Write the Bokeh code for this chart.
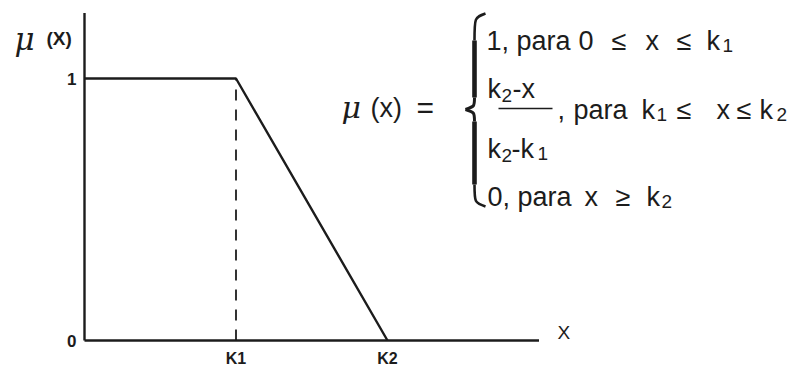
from bokeh.plotting import figure
from bokeh.models import Range1d
from bokeh.core.properties import value
from bokeh.embed import file_html
from bokeh.resources import INLINE

# Trapezoidal membership function (right shoulder)
mu_x = [0.0, 1.0, 2.0]          # 0, k1, k2
mu_y = [1.0, 1.0, 0.0]
k_ticks = [1.0, 2.0]
k_labels = ["K1", "K2"]
y_ticks = [0.0, 1.0]
y_labels = ["0", "1"]
x_axis_end = 3.0
y_axis_top = 1.25

W, H = 808, 367
X0, SX = 84.0, 151.5      # pixel position of x=0 and pixels per unit
Y0, SY = 340.0, 262.0     # pixel position of mu=0 and pixels per unit


def dx(px):
    return (px - X0) / SX


def dy(py):
    return (Y0 - py) / SY


INK = "#1c1c1c"
SANS = "Liberation Sans"

p = figure(width=W, height=H, output_backend="svg", toolbar_location=None,
           x_range=Range1d(dx(0), dx(W)), y_range=Range1d(dy(H), dy(0)),
           min_border=0, outline_line_color=None, background_fill_color="white",
           border_fill_color="white")
p.axis.visible = False
p.grid.visible = False

# axes
p.line([0, x_axis_end], [0, 0], line_color=INK, line_width=2.4)
p.line([0, 0], [0, y_axis_top], line_color=INK, line_width=2.4)

# membership curve and k1 guide
p.line(mu_x, mu_y, line_color=INK, line_width=2.4)
p.line([k_ticks[0], k_ticks[0]], [0, 1], line_color=INK, line_width=1.8,
       line_dash="11 9")

# tick labels
p.text(x=k_ticks, y=[dy(366)] * 2, text=k_labels, text_align="center",
       text_baseline="bottom", text_font=value(SANS), text_font_style="bold",
       text_font_size="16px", text_color=INK)
p.text(x=[dx(76)] * 2, y=y_ticks, text=y_labels, text_align="right",
       text_baseline="middle", text_font=value(SANS), text_font_style="bold",
       text_font_size="17px", text_color=INK)
p.text(x=[dx(557)], y=[dy(332)], text=["X"], text_align="left",
       text_baseline="middle", text_font=value(SANS), text_font_size="19px",
       text_color=INK)

# y axis title
p.text(x=[dx(14)], y=[dy(38)], text=["μ"], text_font=value("DejaVu Serif"),
       text_font_style="italic", text_font_size="31px", text_color=INK,
       text_baseline="alphabetic")
p.text(x=[dx(46)], y=[dy(38)], text=["(X)"], text_font=value(SANS),
       text_font_style="bold", text_font_size="19px", text_color=INK,
       text_baseline="alphabetic")


def put(txt, px, py, size="27px", font=SANS, style="normal"):
    p.text(x=[dx(px)], y=[dy(py)], text=[txt], text_font=value(font),
           text_font_style=style, text_font_size=size, text_color=INK,
           text_align="left", text_baseline="alphabetic")


SUB = "19px"

# left-hand side
put("μ", 341, 107, "30px", "DejaVu Serif", "italic")
put("(x)", 370, 107, "27px")
put("=", 416, 107, "30px")

# case 1
put("1, para", 486, 40)
put("0", 578, 40)
put("≤", 611, 40)
put("x", 645, 40)
put("≤", 676, 40)
put("k", 706, 40)
put("1", 722, 45, SUB)

# case 2: fraction
put("k", 487, 88)
put("2", 501, 95, SUB)
put("-x", 512, 88)
p.line([dx(498), dx(552)], [dy(108), dy(108)], line_color=INK, line_width=1.7)
put("k", 487, 148)
put("2", 501, 155, SUB)
put("-k", 511, 148)
put("1", 537, 153, SUB)
put(",", 557, 109)
put("para", 573, 109)
put("k", 641, 109)
put("1", 656, 114, SUB)
put("≤", 676, 109)
put("x", 716, 109)
put("≤", 736, 109)
put("k", 759, 109)
put("2", 776, 114, SUB)

# case 3
put("0, para", 487, 196)
put("x", 584, 196)
put("≥", 615, 196)
put("k", 646, 196)
put("2", 661, 201, SUB)


# curly brace
def bez(a, c, b, w):
    p.bezier(x0=[dx(a[0])], y0=[dy(a[1])], x1=[dx(b[0])], y1=[dy(b[1])],
             cx0=[dx(c[0])], cy0=[dy(c[1])], cx1=[dx(c[0])], cy1=[dy(c[1])],
             line_color=INK, line_width=w)


bez((485, 13), (474, 17), (474, 40), 2.6)
bez((474, 40), (474, 70), (474, 97), 4.6)
bez((474, 97), (474, 106), (465, 109), 3.0)
bez((465, 109), (474, 112), (474, 121), 3.0)
bez((474, 121), (474, 155), (474, 184), 4.6)
bez((474, 184), (474, 202), (485, 206), 2.6)

open("out.html", "w").write(file_html(p, INLINE))
